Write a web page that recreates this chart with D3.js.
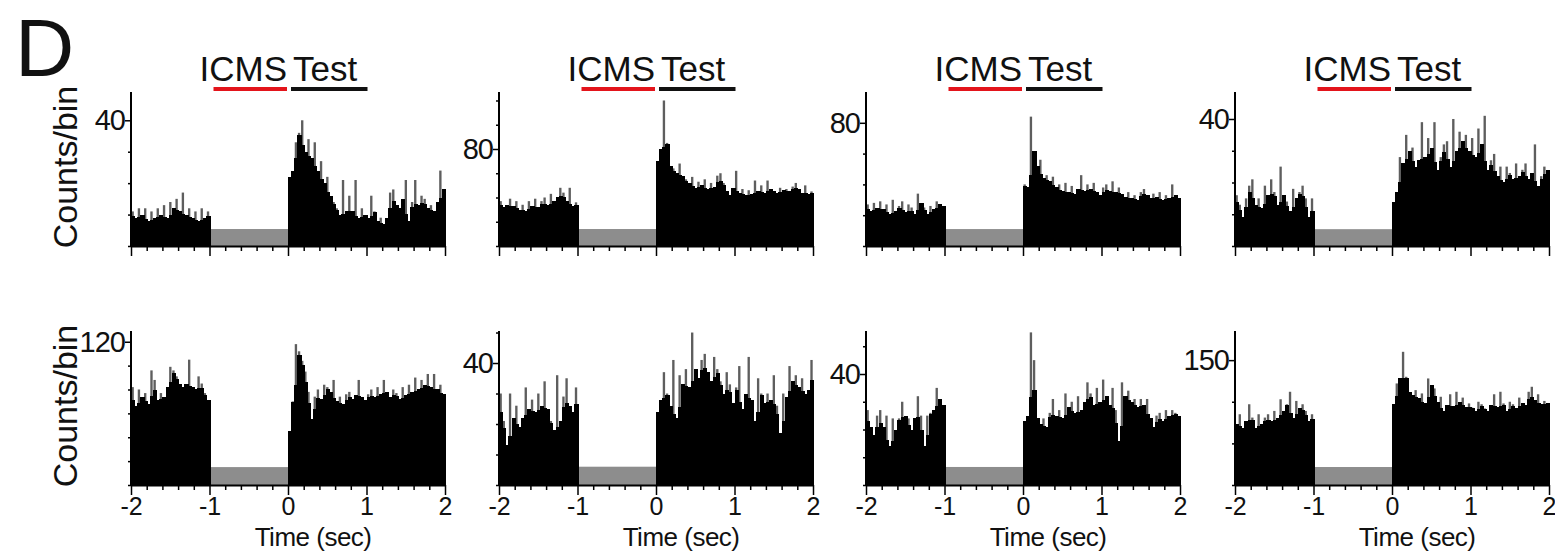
<!DOCTYPE html>
<html lang="en">
	<head>
		<meta charset="utf-8">
		<title>ICMS / Test PSTH</title>
		<script type="text/javascript" src="https://cdn.jsdelivr.net/npm/d3@7"></script>
		<style type="text/css">
			body { margin: 0; background: #fff; }
			text { font-family: "Liberation Sans", Arial, sans-serif; fill: #111; }
		</style>
	</head>
	<body>
		<div id="chart"></div>
		<script type="text/javascript">

			//Width and height
			var w = 1555;
			var h = 554;

			//bin width in seconds, pre period is -2..-1, post period is 0..2
			var binWidth = 0.04;
			var preStart = -2;
			var postStart = 0;
			var icmsEpoch = [-1, 0];
			var testEpoch = [0, 1];

			//top of y axis, labelled tick, minor tick step, height of grey blanking bar (counts/bin)
			var yMax = [49, 127, 100, 48.5, 129, 50.5, 55.5, 185];
			var yLabel = [40, 80, 80, 40, 120, 40, 40, 150];
			var yStep = [10, 20, 20, 10, 20, 10, 10, 50];
			var blankLevel = [5.4, 14, 11, 5.3, 15, 6, 6.5, 21.6];

			//counts per bin
			var pre1 = [11,9,12,10,12,8,11,9,12,10,13,9,14,12,15,11,17,10,12,9,11,8,12,9,11];
			var post1 = [22,24,33,36,40,30,34,28,33,24,27,20,22,16,14,12,10,21,11,16,11,21,9,12,10,9,16,11,8,9,7,9,17,18,13,12,15,21,8,14,21,13,16,15,12,13,11,14,24,18];

			var pre2 = [37,32,34,39,33,37,30,34,29,37,33,39,32,37,40,34,43,37,40,48,44,37,48,33,36];
			var post2 = [70,80,120,85,66,64,60,68,58,55,52,57,48,53,50,55,47,52,49,58,60,52,45,42,48,62,44,47,42,46,43,54,45,50,44,54,47,45,44,48,46,47,45,49,52,47,44,50,43,45];

			var pre3 = [27,23,28,25,29,24,27,21,30,23,26,29,22,27,25,21,34,28,25,21,26,24,29,27,26];
			var post3 = [40,38,84,62,52,56,44,46,42,45,38,40,36,41,35,39,34,37,46,36,40,37,41,35,33,38,40,36,42,35,38,34,32,35,31,33,30,35,37,33,31,34,32,35,30,33,31,40,33,31];

			var pre4 = [16,13,9,15,19,21,13,15,12,19,16,21,17,13,25,16,14,11,18,15,17,19,15,9,15];
			var post4 = [14,17,28,26,35,30,31,25,27,39,28,34,31,39,24,28,32,33,25,40,30,36,33,35,30,34,28,37,32,41,24,27,29,22,25,20,25,23,21,26,22,24,26,21,23,32,19,22,25,24];

			var pre5 = [82,66,80,74,77,68,96,88,71,77,74,82,99,96,91,85,82,85,105,82,80,91,85,77,71];
			var post5 = [45,70,118,112,104,95,78,55,74,80,72,84,82,78,88,70,74,68,76,78,72,75,88,74,71,76,80,74,82,76,88,78,74,80,77,72,82,75,84,78,90,80,88,84,93,82,93,80,84,76];

			var pre6 = [30,21,13,30,22,26,19,22,32,25,28,24,30,26,34,25,21,18,36,21,29,35,26,24,32];
			var post6 = [24,28,37,30,26,41,22,36,33,38,32,50,38,35,41,43,37,34,42,38,34,30,37,33,27,32,39,25,30,42,28,21,35,30,27,30,28,36,26,17,30,29,39,34,36,32,35,30,31,41];

			var pre7 = [27,21,18,25,27,21,25,14,24,20,24,30,25,24,20,24,32,25,14,25,26,27,35,31,29];
			var post7 = [23,25,55,45,24,22,24,21,26,31,25,27,24,33,28,30,26,32,27,30,37,33,29,35,30,38,32,29,35,27,16,37,32,34,30,31,28,31,29,31,24,21,25,26,23,27,25,27,26,25];

			var pre8 = [73,85,69,77,97,81,69,85,73,81,85,77,89,81,103,89,97,112,81,101,93,97,89,77,85];
			var post8 = [97,122,128,160,130,112,108,114,104,110,98,128,120,116,100,106,89,96,109,95,112,100,105,94,98,93,89,100,97,92,89,96,109,94,112,98,89,100,97,92,105,99,96,112,118,102,109,97,101,98];

			var preData = [pre1, pre2, pre3, pre4, pre5, pre6, pre7, pre8];
			var postData = [post1, post2, post3, post4, post5, post6, post7, post8];

			//layout
			var colX = [131, 499, 866, 1235];
			var rowBase = [246, 485];
			var plotW = 314;
			var plotH = 154;

			//Create SVG element
			var svg = d3.select("#chart")
						.append("svg")
						.attr("width", w)
						.attr("height", h);

			//panel letter
			svg.append("text")
			   .attr("x", 15)
			   .attr("y", 76)
			   .attr("font-size", "82px")
			   .text("D");

			//y label, one per row
			rowBase.forEach(function(b) {
				svg.append("text")
				   .attr("transform", "translate(77," + (b - plotH / 2 - 2) + ") rotate(-90)")
				   .attr("text-anchor", "middle")
				   .attr("font-size", "34px")
				   .text("Counts/bin");
			});

			//turn an array of counts into bins; black part stops near the lower neighbour
			function toBins(arr, start) {
				return arr.map(function(v, i) {
					var l = i > 0 ? arr[i - 1] : v;
					var r = i < arr.length - 1 ? arr[i + 1] : v;
					return { t: start + i * binWidth, v: v, base: Math.min(v, (Math.min(l, r) * 2 + Math.max(l, r)) / 3) };
				});
			}

			for (var p = 0; p < 8; p++) {
				var row = Math.floor(p / 4);
				var col = p % 4;
				var x0 = colX[col];
				var base = rowBase[row];

				var x = d3.scaleLinear()
						  .domain([-2, 2])
						  .range([x0, x0 + plotW]);

				var y = d3.scaleLinear()
						  .domain([0, yMax[p]])
						  .range([base, base - plotH]);

				var g = svg.append("g");

				var bins = toBins(preData[p], preStart).concat(toBins(postData[p], postStart));

				//grey blanking bar during ICMS
				g.append("rect")
				 .attr("x", x(icmsEpoch[0]))
				 .attr("y", y(blankLevel[p]))
				 .attr("width", x(icmsEpoch[1]) - x(icmsEpoch[0]))
				 .attr("height", base - y(blankLevel[p]))
				 .attr("fill", "#8d8d8d");

				//thin grey spikes where a bin pokes above its neighbours
				g.selectAll(".spike")
				 .data(bins.filter(function(d) { return d.v > d.base; }))
				 .enter()
				 .append("rect")
				 .attr("class", "spike")
				 .attr("x", function(d) { return x(d.t) + (x(d.t + binWidth) - x(d.t)) * 0.15; })
				 .attr("y", function(d) { return y(d.v); })
				 .attr("width", function(d) { return (x(d.t + binWidth) - x(d.t)) * 0.75; })
				 .attr("height", function(d) { return y(d.base) - y(d.v) + 1; })
				 .attr("fill", "#5e5e5e");

				//black bars
				g.selectAll(".bar")
				 .data(bins)
				 .enter()
				 .append("rect")
				 .attr("class", "bar")
				 .attr("x", function(d) { return x(d.t); })
				 .attr("y", function(d) { return y(d.base); })
				 .attr("width", function(d) { return x(d.t + binWidth) - x(d.t) + 1; })
				 .attr("height", function(d) { return base - y(d.base); })
				 .attr("fill", "#000")
				 .attr("shape-rendering", "crispEdges");

				//y axis
				var yAxis = d3.axisLeft(y)
							  .tickValues(d3.range(0, yMax[p], yStep[p]))
							  .tickSizeOuter(0)
							  .tickSizeInner(3)
							  .tickPadding(4)
							  .tickFormat(function(d) { return d == yLabel[p] ? d : ""; });

				var ya = g.append("g")
						  .attr("transform", "translate(" + x0 + ",0)")
						  .call(yAxis);
				ya.select(".domain")
				  .attr("d", "M0," + base + "V" + (base - plotH))
				  .attr("stroke-width", 2);
				ya.selectAll(".tick line")
				  .attr("stroke-width", 1.5)
				  .attr("x2", function(d) { return d == yLabel[p] ? -6 : -3; });
				ya.selectAll(".tick text")
				  .attr("font-size", "29px")
				  .attr("font-family", "Liberation Sans, Arial, sans-serif")
				  .attr("letter-spacing", "-1px")
				  .attr("x", -6);

				//x axis
				var xAxis = d3.axisBottom(x)
							  .tickValues(d3.range(-10, 11).map(function(k) { return k / 5; }))
							  .tickSizeOuter(0)
							  .tickFormat(function(d) {
								  var k = Math.round(d * 5);
								  return (row == 1 && k % 5 == 0) ? String(k / 5) : "";
							  });

				var xa = g.append("g")
						  .attr("transform", "translate(0," + base + ")")
						  .call(xAxis);
				xa.select(".domain")
				  .attr("stroke-width", 2);
				xa.selectAll(".tick line")
				  .attr("stroke-width", 1.5)
				  .attr("y2", function(d) { return Math.round(d * 5) % 5 == 0 ? 10 : 5; });
				xa.selectAll(".tick text")
				  .attr("font-size", "25px")
				  .attr("font-family", "Liberation Sans, Arial, sans-serif")
				  .attr("y", 12);

				if (row == 1) {
					g.append("text")
					 .attr("x", x(0.32))
					 .attr("y", base + 61)
					 .attr("text-anchor", "middle")
					 .attr("font-size", "26px")
					 .attr("letter-spacing", "-0.5px")
					 .text("Time (sec)");
				}

				//epoch bars and title, top row only
				if (row == 0) {
					var barY = base - plotH - 3;
					g.append("line")
					 .attr("x1", x(icmsEpoch[0]) + 4)
					 .attr("x2", x(icmsEpoch[1]) - 1)
					 .attr("y1", barY)
					 .attr("y2", barY)
					 .attr("stroke", "#e3141b")
					 .attr("stroke-width", 4);
					g.append("line")
					 .attr("x1", x(testEpoch[0]) + 3)
					 .attr("x2", x(testEpoch[1]) + 1)
					 .attr("y1", barY)
					 .attr("y2", barY)
					 .attr("stroke", "#111")
					 .attr("stroke-width", 4);

					g.append("text")
					 .attr("x", x(0) - 1)
					 .attr("y", barY - 8)
					 .attr("text-anchor", "end")
					 .attr("font-size", "35px")
					 .text("ICMS");
					g.append("text")
					 .attr("x", x(0) + 5)
					 .attr("y", barY - 8)
					 .attr("font-size", "35px")
					 .text("Test");
				}
			}

		</script>
	</body>
</html>
